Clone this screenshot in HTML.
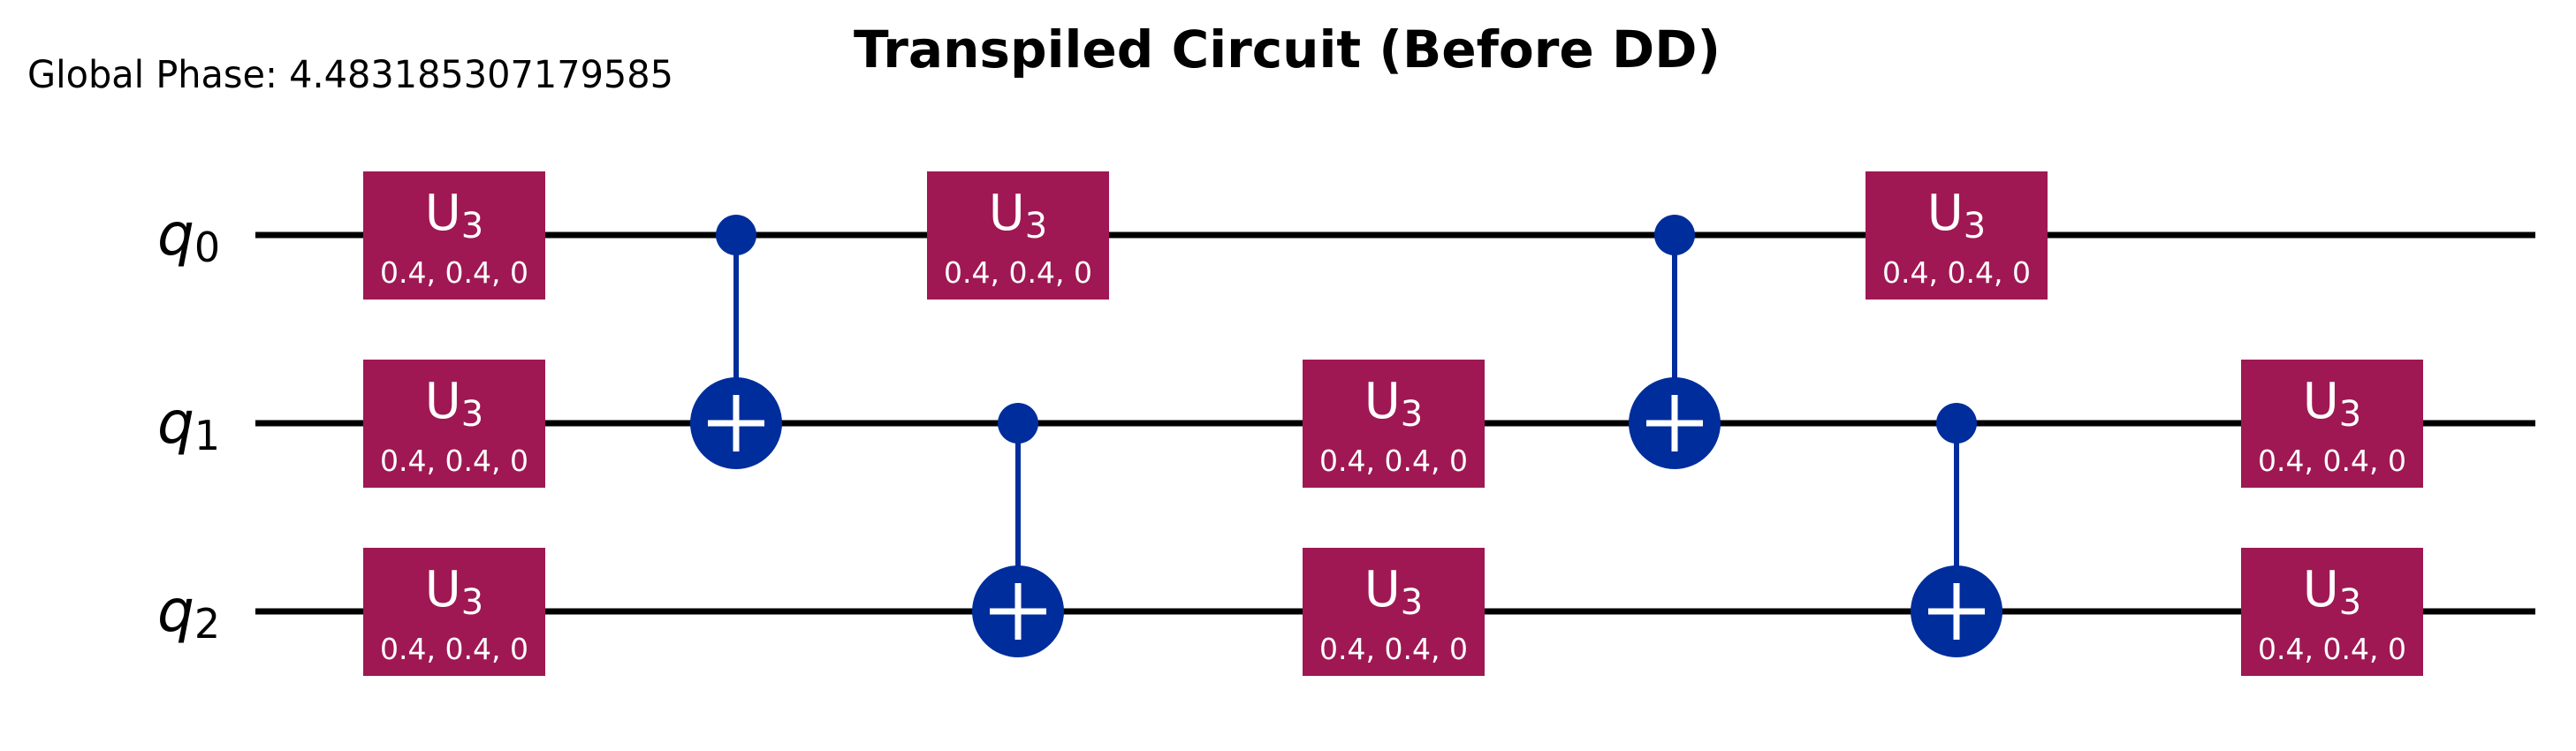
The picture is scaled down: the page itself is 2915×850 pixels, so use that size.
<!DOCTYPE html>
<html><head><meta charset="utf-8"><style>html,body{margin:0;padding:0;background:#fff}svg{display:block}</style></head>
<body>
<svg width="2915" height="850" viewBox="0 0 2915 850" xmlns="http://www.w3.org/2000/svg" font-family="DejaVu Sans, Liberation Sans, sans-serif">
<rect width="2915" height="850" fill="#fff"/>
<text x="31" y="99" font-size="43" textLength="731" lengthAdjust="spacingAndGlyphs">Global Phase: 4.483185307179585</text>
<text x="966" y="76" font-size="58" font-weight="bold" textLength="981" lengthAdjust="spacingAndGlyphs">Transpiled Circuit (Before DD)</text>
<g font-size="66" font-style="italic">
<text x="178" y="288">q<tspan font-style="normal" font-size="46" dy="8">0</tspan></text>
<text x="178" y="501">q<tspan font-style="normal" font-size="46" dy="8">1</tspan></text>
<text x="178" y="714">q<tspan font-style="normal" font-size="46" dy="8">2</tspan></text>
</g>
<g stroke="#000" stroke-width="7">
<line x1="289" y1="266" x2="2869" y2="266"/>
<line x1="289" y1="479" x2="2869" y2="479"/>
<line x1="289" y1="692" x2="2869" y2="692"/>
</g>
<defs>
<g id="u3">
<rect x="0" y="-72" width="206" height="145" fill="#9f1853"/>
<text x="103" y="-6" font-size="56" fill="#fff" text-anchor="middle">U<tspan font-size="40" dy="9">3</tspan></text>
<text x="103" y="54" font-size="33" fill="#fff" text-anchor="middle">0.4, 0.4, 0</text>
</g>
</defs>
<use href="#u3" x="411" y="266"/>
<use href="#u3" x="411" y="479"/>
<use href="#u3" x="411" y="692"/>
<use href="#u3" x="1049" y="266"/>
<use href="#u3" x="1474" y="479"/>
<use href="#u3" x="1474" y="692"/>
<use href="#u3" x="2111" y="266"/>
<use href="#u3" x="2536" y="479"/>
<use href="#u3" x="2536" y="692"/>
<g fill="#002d9c" stroke="#002d9c">
<line x1="833" y1="266" x2="833" y2="479" stroke-width="6"/>
<circle cx="833" cy="266" r="23" stroke="none"/>
<circle cx="833" cy="479" r="52" stroke="none"/>
<line x1="1152" y1="479" x2="1152" y2="692" stroke-width="6"/>
<circle cx="1152" cy="479" r="23" stroke="none"/>
<circle cx="1152" cy="692" r="52" stroke="none"/>
<line x1="1895" y1="266" x2="1895" y2="479" stroke-width="6"/>
<circle cx="1895" cy="266" r="23" stroke="none"/>
<circle cx="1895" cy="479" r="52" stroke="none"/>
<line x1="2214" y1="479" x2="2214" y2="692" stroke-width="6"/>
<circle cx="2214" cy="479" r="23" stroke="none"/>
<circle cx="2214" cy="692" r="52" stroke="none"/>
</g>
<g stroke="#fff" stroke-width="7">
<path d="M801 479H865M833 447V511"/>
<path d="M1120 692H1184M1152 660V724"/>
<path d="M1863 479H1927M1895 447V511"/>
<path d="M2182 692H2246M2214 660V724"/>
</g>
</svg>
</body></html>
